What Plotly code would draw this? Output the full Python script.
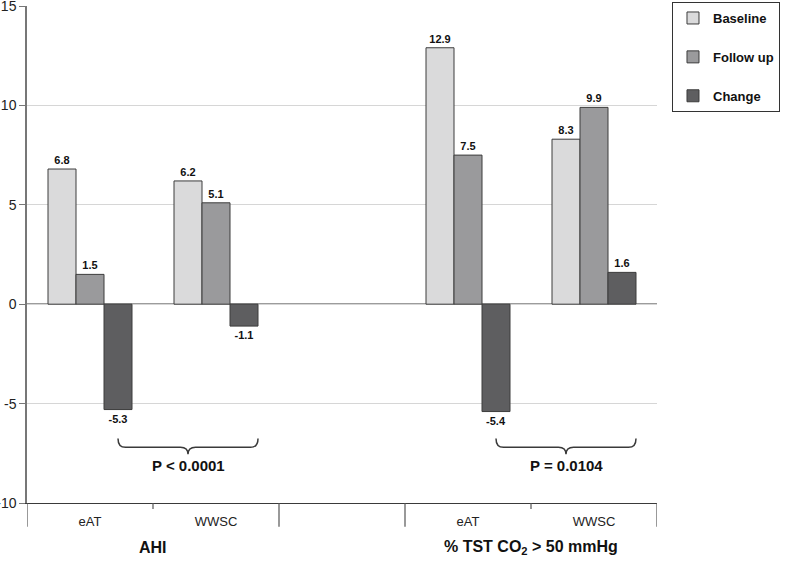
import plotly.graph_objects as go

# ---- data ----
categories = ["eAT", "WWSC", "eAT", "WWSC"]
group_labels = ["AHI", "% TST CO<sub>2</sub> > 50 mmHg"]
bar_positions = [0.5, 1.5, 3.5, 4.5]
baseline = [6.8, 6.2, 12.9, 8.3]
follow_up = [1.5, 5.1, 7.5, 9.9]
change = [-5.3, -1.1, -5.4, 1.6]
series_names = ["Baseline", "Follow up", "Change"]
p_values = ["P < 0.0001", "P = 0.0104"]
y_ticks = [-10, -5, 0, 5, 10, 15]
y_ticktext = ["-10", "-5", "0", "5", "10", "15"]

colors = ["#dadadb", "#9a9a9c", "#5e5e60"]
series = [baseline, follow_up, change]
FONT = "Liberation Sans, Arial"

fig = go.Figure()
for i, (name, vals) in enumerate(zip(series_names, series)):
    fig.add_trace(go.Bar(
        x=bar_positions, y=vals, name=name,
        legendgroup=name,
        marker=dict(color=colors[i], line=dict(color="#3c3c3c", width=1)),
        text=[f"{v:.1f}" for v in vals], textposition="outside",
        textfont=dict(family=FONT, size=11, color="#111111", weight="bold"),
        cliponaxis=False,
    ))

shapes = []
# zero line
shapes.append(dict(type="line", xref="paper", yref="y", x0=0, x1=1, y0=0, y1=0,
                   line=dict(color="#3a3a3a", width=1.2), layer="below"))
# category divider ticks below axis
for xv, long in [(0, True), (1, False), (2, True), (3, True), (4, False), (5, True)]:
    shapes.append(dict(type="line", xref="x", yref="paper", x0=xv, x1=xv,
                       y0=0, y1=-0.048 if long else -0.012,
                       line=dict(color="#555555", width=1.2)))

# braces
def brace(x0, x1, ytop=-6.75, ymid=-7.2, ytip=-7.55):
    xm = (x0 + x1) / 2
    d = 0.06
    return (f"M {x0},{ytop} Q {x0},{ymid} {x0+d},{ymid} L {xm-d},{ymid} "
            f"Q {xm},{ymid} {xm},{ytip} Q {xm},{ymid} {xm+d},{ymid} "
            f"L {x1-d},{ymid} Q {x1},{ymid} {x1},{ytop}")

bw = 1 / 3 * 2 / 3  # single bar width in category units
for c in [0, 3]:
    x0 = c + 0.5 + bw
    x1 = c + 1 + 0.5 + bw * 1.5
    shapes.append(dict(type="path", xref="x", yref="y", path=brace(x0, x1),
                       line=dict(color="#3a3a3a", width=1.5)))

annotations = []
for c, p in zip([0, 3], p_values):
    x0 = c + 0.5 + bw
    x1 = c + 1 + 0.5 + bw * 1.5
    annotations.append(dict(x=(x0 + x1) / 2, y=-8.1, xref="x", yref="y", text=p,
                            showarrow=False,
                            font=dict(family=FONT, size=15, color="#111111", weight="bold")))
for xc, g in zip([1, 4], group_labels):
    annotations.append(dict(x=xc, y=-0.09, xref="x", yref="paper", text=g, showarrow=False,
                            yanchor="middle",
                            font=dict(family=FONT, size=16, color="#111111", weight="bold")))

fig.update_layout(
    width=789, height=566,
    margin=dict(l=27, r=132, t=6, b=63, autoexpand=False),
    paper_bgcolor="white", plot_bgcolor="white",
    barmode="group", bargap=1/3, bargroupgap=0,
    font=dict(family=FONT, size=14, color="#222222"),
    shapes=shapes, annotations=annotations,
    legend=dict(x=1.0238, y=1.008, xanchor="left", yanchor="top",
                bordercolor="#333333", borderwidth=1, bgcolor="white",
                tracegroupgap=19, itemwidth=30,
                font=dict(family=FONT, size=13, color="#111111", weight="bold")),
    xaxis=dict(range=[0, 5], tickvals=[0.5, 1.5, 3.5, 4.5], ticktext=categories,
               showgrid=False, zeroline=False, showline=True, linecolor="#3a3a3a", linewidth=1.2,
               ticks="", ticklabelstandoff=6, tickfont=dict(size=13, color="#222222"), automargin=False),
    yaxis=dict(range=[-10, 15], tickvals=y_ticks, ticktext=y_ticktext, showgrid=True, gridcolor="#d6d6d6",
               zeroline=False, showline=True, linecolor="#777777", linewidth=1.5,
               ticks="outside", ticklen=6, tickcolor="#777777", automargin=False,
               ticklabeloverflow="allow",
               tickfont=dict(size=14, color="#222222")),
    showlegend=True,
)
fig.write_html("out.html", config={"displayModeBar": False},
               post_script="document.body.style.margin='0';")
